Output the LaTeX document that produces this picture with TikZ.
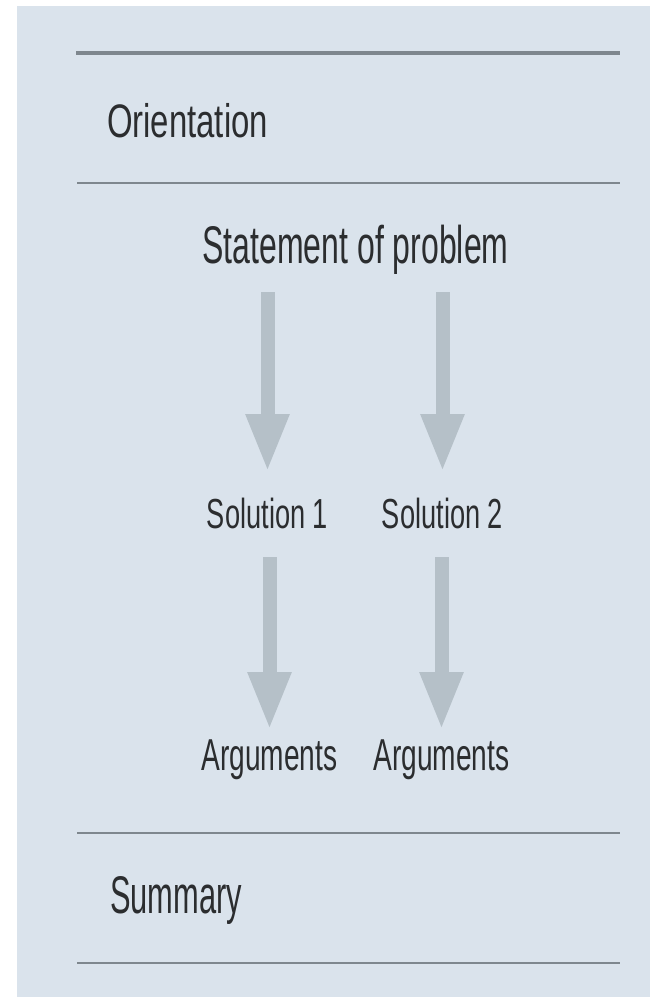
\documentclass[tikz,border=0pt]{standalone}
\usepackage{fontspec}
\usepackage{graphicx}
\setmainfont{Liberation Sans}
\usetikzlibrary{arrows.meta}
\definecolor{paper}{HTML}{DAE3EC}
\definecolor{rulec}{HTML}{7E878E}
\definecolor{arrowc}{HTML}{B5C0C8}
\definecolor{ink}{HTML}{2B2D2F}
\newcommand\txt[3]{\fontsize{#1}{#1}\selectfont\scalebox{#2}[1]{#3}}
\begin{document}
\begin{tikzpicture}[x=1pt,y=-1pt,
  lbl/.style={inner sep=0pt, outer sep=0pt, text=ink, text depth=0pt},
  rulel/.style={draw=rulec, line width=2.6pt},
  bigarrow/.style={draw=arrowc, line width=14pt, -{Triangle[width=40pt,length=58pt]}}]
\useasboundingbox (0,0) rectangle (650,998);
\fill[white] (0,0) rectangle (650,998);
\fill[paper] (17,6) rectangle (650,997);
% rules
\draw[rulel, line width=3.2pt] (76,53) -- (620,53);
\draw[rulel] (77,183) -- (620,183);
\draw[rulel] (77,833) -- (620,833);
\draw[rulel] (77,963) -- (620,963);
% labels
\node[lbl, text height=34pt, anchor=base west] (orient) at (107,137) {\txt{47pt}{0.70}{Orientation}};
\node[lbl, text height=38pt, anchor=base] (stmt) at (355.5,263) {\txt{53pt}{0.604}{Statement of problem}};
\node[lbl, text height=30pt, anchor=base] (sol1) at (267.5,528) {\txt{42pt}{0.648}{Solution 1}};
\node[lbl, text height=30pt, anchor=base] (sol2) at (442.5,528) {\txt{42pt}{0.648}{Solution 2}};
\node[lbl, text height=32pt, anchor=base] (arg1) at (269.5,770) {\txt{44.7pt}{0.629}{Arguments}};
\node[lbl, text height=32pt, anchor=base] (arg2) at (441.5,770) {\txt{44.7pt}{0.629}{Arguments}};
\node[lbl, text height=38pt, anchor=base west] (summ) at (110,913) {\txt{53pt}{0.582}{Summary}};
% arrows
\draw[bigarrow, shorten <=29pt, shorten >=26pt] (stmt.south -| sol1.north) -- (sol1.north);
\draw[bigarrow, shorten <=29pt, shorten >=26pt] (stmt.south -| sol2.north) -- (sol2.north);
\draw[bigarrow, shorten <=29pt, shorten >=8pt] (sol1.south -| arg1.north) -- (arg1.north);
\draw[bigarrow, shorten <=29pt, shorten >=8pt] (sol2.south -| arg2.north) -- (arg2.north);
\end{tikzpicture}
\end{document}
